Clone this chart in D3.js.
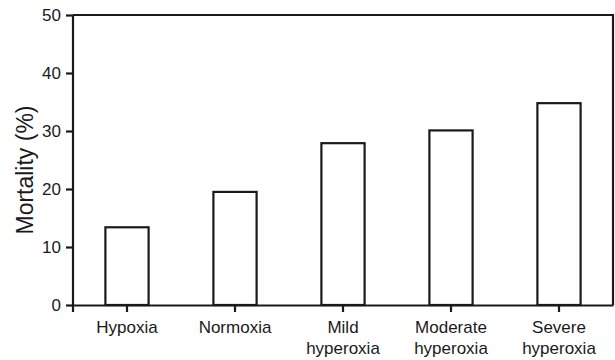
<!DOCTYPE html>
<html>
<head>
<meta charset="utf-8">
<script src="https://cdn.jsdelivr.net/npm/d3@7"></script>
<style>
  body { margin: 0; background: #fff; }
  text { font-family: "Liberation Sans", Arial, sans-serif; fill: #1a1a1a; }
</style>
</head>
<body>
<svg width="615" height="360"></svg>
<script>
// data
var categories = ["Hypoxia", "Normoxia", "Mild hyperoxia", "Moderate hyperoxia", "Severe hyperoxia"];
var labelLines = [["Hypoxia"], ["Normoxia"], ["Mild", "hyperoxia"], ["Moderate", "hyperoxia"], ["Severe", "hyperoxia"]];
var mortality = [13.4, 19.5, 27.9, 30.1, 34.8];
var yTicks = [0, 10, 20, 30, 40, 50];

var svg = d3.select("svg");
var margin = { top: 15, right: 2, bottom: 55, left: 73 };
var width = 615 - margin.left - margin.right;
var height = 360 - margin.top - margin.bottom;
var ink = "#1a1a1a";

var g = svg.append("g").attr("transform", "translate(" + margin.left + "," + margin.top + ")");

var x = d3.scaleBand().domain(categories).range([0, width]).paddingInner(0.6).paddingOuter(0.3);
var y = d3.scaleLinear().domain([0, 50]).range([height, 0]);

// bars
g.selectAll("rect.bar").data(mortality).enter().append("rect")
  .attr("class", "bar")
  .attr("x", function(d, i) { return x(categories[i]); })
  .attr("y", function(d) { return y(d); })
  .attr("width", x.bandwidth())
  .attr("height", function(d) { return height - y(d); })
  .attr("fill", "#fff")
  .attr("stroke", ink)
  .attr("stroke-width", 2.2);

// frame top + right
g.append("path")
  .attr("d", "M0,0H" + width + "V" + height)
  .attr("fill", "none").attr("stroke", ink).attr("stroke-width", 2.2);

// y axis
var yAxis = g.append("g")
  .call(d3.axisLeft(y).tickValues(yTicks).tickSize(7).tickPadding(5).tickSizeOuter(0));
yAxis.select(".domain").attr("d", "M0,0V" + (height + 7));
yAxis.selectAll("line, .domain").attr("stroke", ink).attr("stroke-width", 2.2);
yAxis.selectAll("text").attr("font-size", 17).attr("fill", ink)
  .style("font-family", "'Liberation Sans', Arial, sans-serif");

// x axis
var xAxis = g.append("g").attr("transform", "translate(0," + height + ")")
  .call(d3.axisBottom(x).tickSize(7).tickSizeOuter(0).tickFormat(""));
xAxis.selectAll("line, .domain").attr("stroke", ink).attr("stroke-width", 2.2);

xAxis.selectAll(".tick").each(function(d, i) {
  var t = d3.select(this).append("text")
    .attr("text-anchor", "middle")
    .attr("font-size", 17)
    .attr("fill", ink)
    .style("font-family", "'Liberation Sans', Arial, sans-serif");
  labelLines[i].forEach(function(line, j) {
    t.append("tspan").attr("x", 0).attr("y", 28 + j * 21).text(line);
  });
});

// y label
g.append("text")
  .attr("transform", "translate(-40," + (height / 2 + 10) + ") rotate(-90)")
  .attr("text-anchor", "middle")
  .attr("font-size", 23)
  .text("Mortality (%)");
</script>
</body>
</html>
